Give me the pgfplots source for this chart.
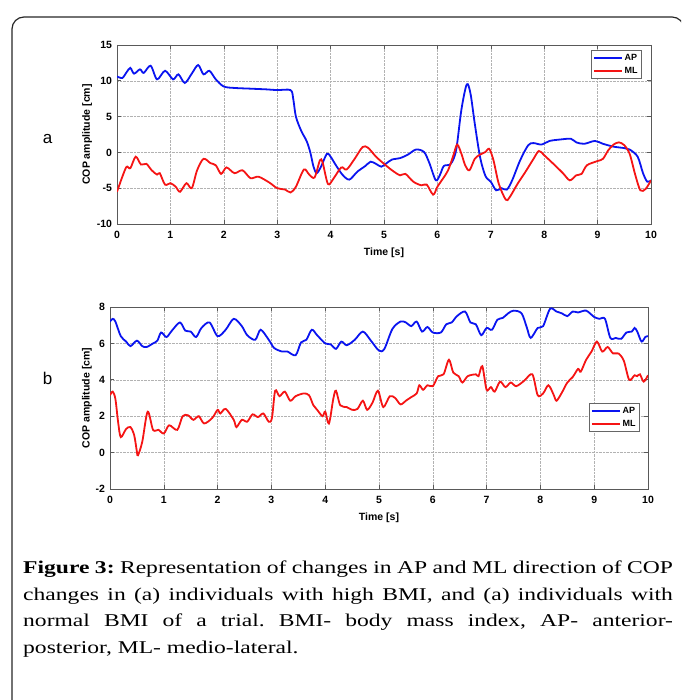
\documentclass[border=0pt]{standalone}
\usepackage{fontspec}
\setmainfont{Liberation Sans}
\newfontfamily\capfont{Liberation Serif}
\usepackage{graphicx}
\usepackage{pgfplots}
\pgfplotsset{compat=1.18}

\definecolor{apblue}{RGB}{10,20,240}
\definecolor{mlred}{RGB}{245,20,20}

\pgfplotsset{copstyle/.style={
  scale only axis, xmin=0, xmax=10, xtick={0,1,...,10},
  grid=major, grid style={densely dotted, black!30, line width=0.5pt},
  axis line style={black!65, line width=0.8pt},
  major tick style={black!65, line width=0.6pt}, major tick length=4pt, tick align=inside,
  /pgf/number format/assume math mode=true,
  tick label style={font=\fontsize{10.5}{12}\selectfont\bfseries},
  xticklabel style={yshift=-4pt},
  yticklabel style={xshift=-1.5pt},
  label style={font=\fontsize{10.5}{12}\selectfont\bfseries},
  xlabel={Time [s]}, ylabel={COP amplitude [cm]},
  xlabel style={at={(axis description cs:0.5,0)}, anchor=center, yshift=-29pt},
  legend style={draw=black!60, line width=0.8pt, fill=white,
    font=\fontsize{9}{10}\selectfont\bfseries, inner sep=2pt, row sep=1pt},
  legend cell align=left,
  legend image code/.code={\draw[#1, line width=1.6pt] (0pt,0pt) -- (28pt,0pt);},
  every axis plot/.append style={line width=1.8pt, smooth, tension=0.5},
}}

\begin{document}
\frenchspacing
\begin{tikzpicture}[x=1pt,y=1pt]
\useasboundingbox (0,0) rectangle (681,700);
\begin{scope}
\clip (0,0) rectangle (681,700);
\draw[line width=1.2pt, black!85, rounded corners=12pt] (12,-30) rectangle (684,683);
\end{scope}

\node[font=\fontsize{17}{20}\selectfont] at (47.5,560.5) {a};
\node[font=\fontsize{17}{20}\selectfont] at (47.5,322) {b};

% ---------------- plot a ----------------
\begin{axis}[copstyle, at={(117pt,476pt)}, anchor=south west,
  width=534pt, height=179pt, ymin=-10, ymax=15, ytick={-10,-5,0,5,10,15},
  ylabel style={at={(axis description cs:-0.056,0.5)}, anchor=center},
  legend style={at={(1,1)}, anchor=north east, xshift=-9pt, yshift=-5pt}]
\addplot[apblue] coordinates {
(0,10.6) (0.1,10.4) (0.18,11.2) (0.25,11.8) (0.32,11.0) (0.43,11.6) (0.5,11.1)
(0.63,12.1) (0.75,10.2) (0.9,11.4) (1.05,10.2) (1.15,10.9) (1.27,9.7) (1.4,11.0)
(1.52,12.2) (1.62,10.9) (1.73,11.4) (1.85,10.2) (2.0,9.2) (2.2,9.0) (2.5,8.9)
(2.8,8.8) (3.0,8.7) (3.25,8.7) (3.3,7.5) (3.35,5.0) (3.45,3.0) (3.55,1.6)
(3.62,0) (3.68,-2.0) (3.74,-2.9) (3.82,-2.0) (3.93,-0.2) (4.0,-0.6) (4.1,-1.8)
(4.22,-3.1) (4.35,-3.8) (4.5,-2.7) (4.65,-1.9) (4.75,-1.3) (4.85,-1.6) (4.95,-2.0)
(5.05,-1.5) (5.15,-1.0) (5.3,-0.8) (5.45,-0.3) (5.6,0.4) (5.75,0.05) (5.85,-1.5)
(5.97,-3.9) (6.05,-3.1) (6.12,-1.9) (6.25,-1.6) (6.35,0.3) (6.45,6.0) (6.55,9.5)
(6.62,8.2) (6.7,4.0) (6.8,-0.7) (6.9,-3.3) (7.0,-4.1) (7.1,-5.3) (7.2,-5.0)
(7.3,-5.2) (7.4,-3.9) (7.55,-1.1) (7.7,1.0) (7.8,1.3) (7.95,1.1) (8.1,1.6)
(8.3,1.8) (8.5,1.9) (8.6,1.4) (8.75,1.2) (8.95,1.6) (9.1,1.2) (9.3,0.8)
(9.5,0.6) (9.6,0.4) (9.75,-0.6) (9.85,-2.9) (9.93,-4.1) (10,-3.9)};
\addlegendentry{AP}
\addplot[mlred] coordinates {
(0,-5.5) (0.1,-3.4) (0.18,-2.0) (0.25,-2.2) (0.35,-0.6) (0.45,-1.7) (0.55,-1.6)
(0.65,-2.5) (0.75,-3.1) (0.8,-2.9) (0.9,-4.5) (1.0,-4.3) (1.1,-4.8) (1.18,-5.5)
(1.3,-4.3) (1.4,-5.0) (1.5,-2.5) (1.62,-0.9) (1.75,-1.5) (1.85,-1.8) (1.95,-3.0)
(2.05,-2.1) (2.2,-2.9) (2.35,-2.5) (2.5,-3.6) (2.65,-3.4) (2.85,-4.2) (3.0,-5.0)
(3.15,-5.2) (3.25,-5.6) (3.35,-4.8) (3.5,-2.4) (3.6,-3.1) (3.7,-3.5) (3.8,-1.1)
(3.85,-1.4) (3.95,-4.4) (4.05,-3.7) (4.2,-2.1) (4.3,-2.4) (4.45,-0.9) (4.6,0.75)
(4.7,0.65) (4.85,-0.6) (5.0,-1.6) (5.15,-2.5) (5.3,-3.2) (5.4,-3.0) (5.55,-4.1)
(5.7,-4.6) (5.8,-4.5) (5.92,-5.9) (6.0,-4.8) (6.1,-3.7) (6.2,-2.5) (6.3,-0.4)
(6.37,1.1) (6.45,-0.2) (6.52,-1.8) (6.6,-2.5) (6.7,-0.9) (6.8,-0.3) (6.9,0.05)
(6.97,0.5) (7.05,-1.1) (7.15,-4.4) (7.28,-6.6) (7.35,-6.3) (7.5,-4.4) (7.65,-2.7)
(7.8,-0.9) (7.9,0.2) (8.0,-0.4) (8.2,-1.8) (8.35,-2.9) (8.48,-3.9) (8.6,-3.2)
(8.7,-3.0) (8.8,-1.8) (9.0,-1.2) (9.1,-0.9) (9.2,0.3) (9.3,1.1) (9.4,1.4)
(9.5,1.0) (9.6,-0.2) (9.7,-3.0) (9.8,-5.3) (9.9,-5.1) (10,-3.9)};
\addlegendentry{ML}
\end{axis}

% ---------------- plot b ----------------
\begin{axis}[copstyle, at={(110pt,211pt)}, anchor=south west,
  width=538pt, height=182pt, ymin=-2, ymax=8, ytick={-2,0,2,4,6,8},
  ylabel style={at={(axis description cs:-0.043,0.5)}, anchor=center},
  legend style={at={(1,1)}, anchor=north east, xshift=-8pt, yshift=-96pt}]
\addplot[apblue] coordinates {
(0,7.2) (0.05,7.35) (0.1,7.2) (0.2,6.4) (0.3,6.1) (0.38,5.85) (0.5,6.15)
(0.6,5.85) (0.68,5.8) (0.8,6.0) (0.88,6.15) (0.95,6.6) (1.05,6.35) (1.15,6.7)
(1.3,7.15) (1.4,6.7) (1.5,6.65) (1.6,6.35) (1.7,6.85) (1.85,7.15) (2.0,6.4)
(2.15,6.75) (2.3,7.35) (2.45,6.95) (2.55,6.45) (2.7,6.2) (2.8,6.75) (2.95,6.2)
(3.05,5.75) (3.2,5.55) (3.3,5.55) (3.45,5.35) (3.55,6.05) (3.65,6.2) (3.75,6.75)
(3.85,6.45) (4.0,6.0) (4.1,5.95) (4.2,5.7) (4.3,6.1) (4.4,5.9) (4.55,6.2)
(4.7,6.65) (4.85,6.15) (5.0,5.6) (5.1,5.7) (5.25,6.8) (5.4,7.2) (5.5,7.15)
(5.6,6.95) (5.7,7.2) (5.8,6.65) (5.9,6.9) (6.0,6.6) (6.15,6.6) (6.25,7.05)
(6.35,7.15) (6.45,7.5) (6.6,7.75) (6.7,7.15) (6.8,7.05) (6.9,6.45) (7.0,6.85)
(7.1,6.75) (7.2,7.3) (7.3,7.4) (7.4,7.65) (7.5,7.8) (7.65,7.65) (7.75,6.85)
(7.82,6.3) (7.95,6.85) (8.05,6.95) (8.18,7.9) (8.3,7.75) (8.4,7.65) (8.5,7.5)
(8.6,7.75) (8.7,7.7) (8.85,7.8) (9.0,7.45) (9.1,7.35) (9.2,7.35) (9.3,6.3)
(9.4,6.3) (9.5,6.25) (9.6,6.6) (9.7,6.65) (9.75,6.85) (9.8,6.65) (9.88,6.1)
(9.95,6.35) (10,6.4)};
\addlegendentry{AP}
\addplot[mlred] coordinates {
(0,3.15) (0.05,3.35) (0.1,2.95) (0.15,1.7) (0.2,0.85) (0.3,1.3) (0.38,1.4)
(0.45,0.95) (0.5,0.05) (0.52,-0.15) (0.6,0.6) (0.7,2.25) (0.8,1.25) (0.9,1.25)
(1.0,1.05) (1.1,1.5) (1.25,1.25) (1.35,2.0) (1.45,2.05) (1.55,1.8) (1.65,2.0)
(1.75,1.6) (1.9,1.9) (2.0,2.35) (2.05,2.15) (2.15,2.4) (2.3,1.8) (2.35,1.4)
(2.45,1.8) (2.55,1.7) (2.65,2.1) (2.75,1.95) (2.85,2.15) (2.95,1.7) (3.01,1.9)
(3.07,3.4) (3.15,3.1) (3.25,3.35) (3.35,2.85) (3.45,3.1) (3.6,3.25) (3.7,3.15)
(3.78,2.6) (3.85,2.35) (3.95,2.0) (4.0,2.25) (4.07,1.6) (4.15,2.95) (4.2,3.4)
(4.28,2.6) (4.4,2.5) (4.5,2.35) (4.6,2.4) (4.7,2.85) (4.78,2.35) (4.88,2.75)
(4.98,3.4) (5.08,2.5) (5.2,3.1) (5.3,3.0) (5.4,2.65) (5.5,2.85) (5.6,3.05)
(5.7,3.25) (5.75,3.7) (5.82,3.45) (5.9,3.7) (6.0,3.65) (6.1,4.2) (6.2,4.3)
(6.3,5.1) (6.38,4.4) (6.48,4.2) (6.55,3.85) (6.65,4.2) (6.8,4.3) (6.85,4.2)
(6.92,4.75) (7.0,3.45) (7.08,3.6) (7.15,3.35) (7.25,3.9) (7.35,3.6) (7.45,3.85)
(7.55,3.65) (7.7,3.95) (7.85,4.3) (7.95,3.15) (8.05,3.25) (8.15,3.7) (8.25,3.15)
(8.3,2.85) (8.4,3.3) (8.5,3.85) (8.6,4.15) (8.7,4.6) (8.75,4.45) (8.85,5.1)
(8.95,5.55) (9.05,6.1) (9.15,5.55) (9.25,5.8) (9.35,5.45) (9.45,5.45) (9.55,5.05)
(9.65,4.0) (9.75,4.25) (9.8,4.2) (9.85,4.3) (9.92,3.9) (10,4.25)};
\addlegendentry{ML}
\end{axis}

% ---------------- caption ----------------
\begin{scope}[every node/.style={anchor=base west, inner sep=0pt, font=\capfont\fontsize{18}{20}\selectfont}]
\node at (23,126) {\scalebox{1.31}[1]{\makebox[496pt][s]{\textbf{Figure 3:} Representation of changes in AP and ML direction of COP}}};
\node at (23,99.5) {\scalebox{1.31}[1]{\makebox[496pt][s]{changes in (a) individuals with high BMI, and (a) individuals with}}};
\node at (23,73) {\scalebox{1.31}[1]{\makebox[496pt][s]{normal BMI of a trial. BMI- body mass index, AP- anterior-}}};
\node at (23,46.5) {\scalebox{1.31}[1]{posterior, ML- medio-lateral.}};
\end{scope}
\end{tikzpicture}
\end{document}
